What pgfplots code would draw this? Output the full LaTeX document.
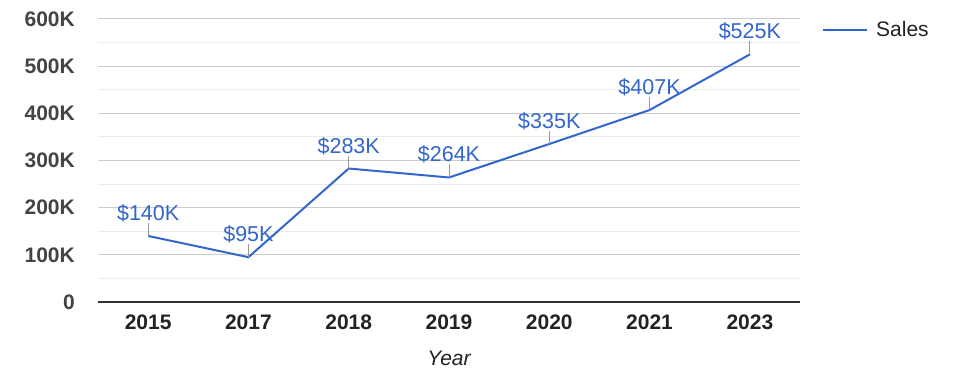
\documentclass[border=0pt]{standalone}
\usepackage{fontspec}
\setmainfont{Liberation Sans}
\usepackage{pgfplots}
\pgfplotsset{compat=1.18}
\usepackage{pgfplotstable}
\definecolor{gblue}{HTML}{3366CC}
\definecolor{gridmaj}{HTML}{CCCCCC}
\definecolor{gridmin}{HTML}{EBEBEB}
\definecolor{basecol}{HTML}{333333}
\definecolor{ylab}{HTML}{444444}
\definecolor{xlab}{HTML}{222222}
\definecolor{stemcol}{HTML}{999999}
\newcommand{\chartfont}{\fontsize{21bp}{25bp}\selectfont}
\newcommand{\annfont}{\fontsize{21.5bp}{25bp}\selectfont}
\pgfdeclareplotmark{stem}{%
  \pgfpathmoveto{\pgfpointorigin}%
  \pgfpathlineto{\pgfpoint{0pt}{13bp}}%
  \pgfusepathqstroke}

\pgfplotstableread{
x y
0 140
1 95
2 283
3 264
4 335
5 407
6 525
}\sales

\begin{document}
\begin{tikzpicture}
\useasboundingbox (0,0) rectangle (975bp,378bp);
\begin{axis}[
  at={(98bp,76bp)}, anchor=south west,
  scale only axis, width=702bp, height=283bp,
  xmin=-0.5, xmax=6.5, ymin=0, ymax=600,
  clip=false,
  xtick={0,...,6},
  xticklabels={2015,2017,2018,2019,2020,2021,2023},
  ytick={0,100,...,600},
  yticklabels={0,100K,200K,300K,400K,500K,600K},
  minor ytick={50,150,...,550},
  ymajorgrids, yminorgrids,
  major grid style={draw=gridmaj, line width=1bp},
  minor grid style={draw=gridmin, line width=1bp},
  extra y ticks={0},
  extra y tick labels={},
  extra y tick style={major grid style={draw=basecol, line width=1.5bp}},
  axis line style={draw=none},
  major tick length=0pt, minor tick length=0pt,
  tick style={draw=none},
  /pgf/number format/assume math mode=true,
  yticklabel style={font=\chartfont\bfseries, text=ylab, anchor=east, inner sep=0pt, xshift=-23bp},
  xticklabel style={font=\chartfont\bfseries, text=xlab, anchor=north, inner sep=0pt, yshift=-13bp},
  xlabel={Year},
  xlabel style={font=\chartfont\itshape, text=xlab, at={(axis description cs:0.5,-0.198)}, anchor=center, inner sep=0pt},
  legend style={draw=none, fill=none, at={(1.0313,0.961)}, anchor=west,
    inner sep=0pt, font=\chartfont, text=xlab, column sep=8bp,
    nodes={inner sep=0pt}},
  legend image code/.code={\draw[#1] (0bp,0bp) -- (44bp,0bp);},
]
\addplot[draw=none, mark=stem, mark options={draw=stemcol, line width=1bp}, forget plot]
  table[x=x, y=y] {\sales};
\addplot[gblue, line width=2bp, mark=none,
  point meta=explicit symbolic,
  nodes near coords={\$\pgfplotspointmeta K},
  every node near coord/.append style={anchor=base, yshift=15.5bp, inner sep=0pt,
    text=gblue, font=\annfont}]
  table[x=x, y=y, meta=y] {\sales};
\addlegendentry{Sales}
\end{axis}
\end{tikzpicture}
\end{document}
